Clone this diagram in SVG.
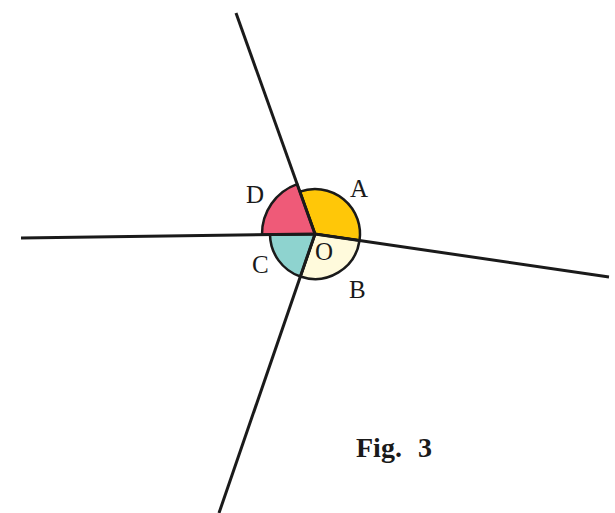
<svg xmlns="http://www.w3.org/2000/svg" width="615" height="513" viewBox="0 0 615 513">
<style>
.sec{stroke:#1a1a1a;stroke-width:2.5;stroke-linejoin:round}
.ray{stroke:#1a1a1a;stroke-width:3;stroke-linecap:butt;fill:none}
.lbl{font-family:"Liberation Serif","Times New Roman",serif;font-size:25px;fill:#1a1a1a}
.cap{font-family:"Liberation Serif","Times New Roman",serif;font-size:28px;font-weight:bold;fill:#1a1a1a}
</style>
<rect width="615" height="513" fill="#ffffff"/>
<g id="angleA"><path class="sec" fill="#FFC708" d="M315 234 L299.85 191.63 A45 45 0 0 1 359.53 240.51 Z"/></g>
<g id="angleB"><path class="sec" fill="#FFFADC" d="M315 234 L359.53 240.51 A45 45 0 0 1 300.36 276.55 Z"/></g>
<g id="angleC"><path class="sec" fill="#8ED3CF" d="M315 234 L300.36 276.55 A45 45 0 0 1 270 234.61 Z"/></g>
<g id="angleD"><path class="sec" fill="#EF5A78" d="M315 234 L262 234.72 A53 53 0 0 1 297.16 184.1 Z"/></g>
<g id="rays">
<line class="ray" x1="315" y1="234" x2="236" y2="13"/>
<line class="ray" x1="315" y1="234" x2="21" y2="238"/>
<line class="ray" x1="315" y1="234" x2="609" y2="277"/>
<line class="ray" x1="315" y1="234" x2="219" y2="513"/>
</g>
<g id="labels">
<text class="lbl" x="246" y="203">D</text>
<text class="lbl" x="350" y="197">A</text>
<text class="lbl" x="315" y="260">O</text>
<text class="lbl" x="252" y="273">C</text>
<text class="lbl" x="349" y="298">B</text>
<text class="cap" x="356" y="457" word-spacing="9">Fig. 3</text>
</g>
</svg>
